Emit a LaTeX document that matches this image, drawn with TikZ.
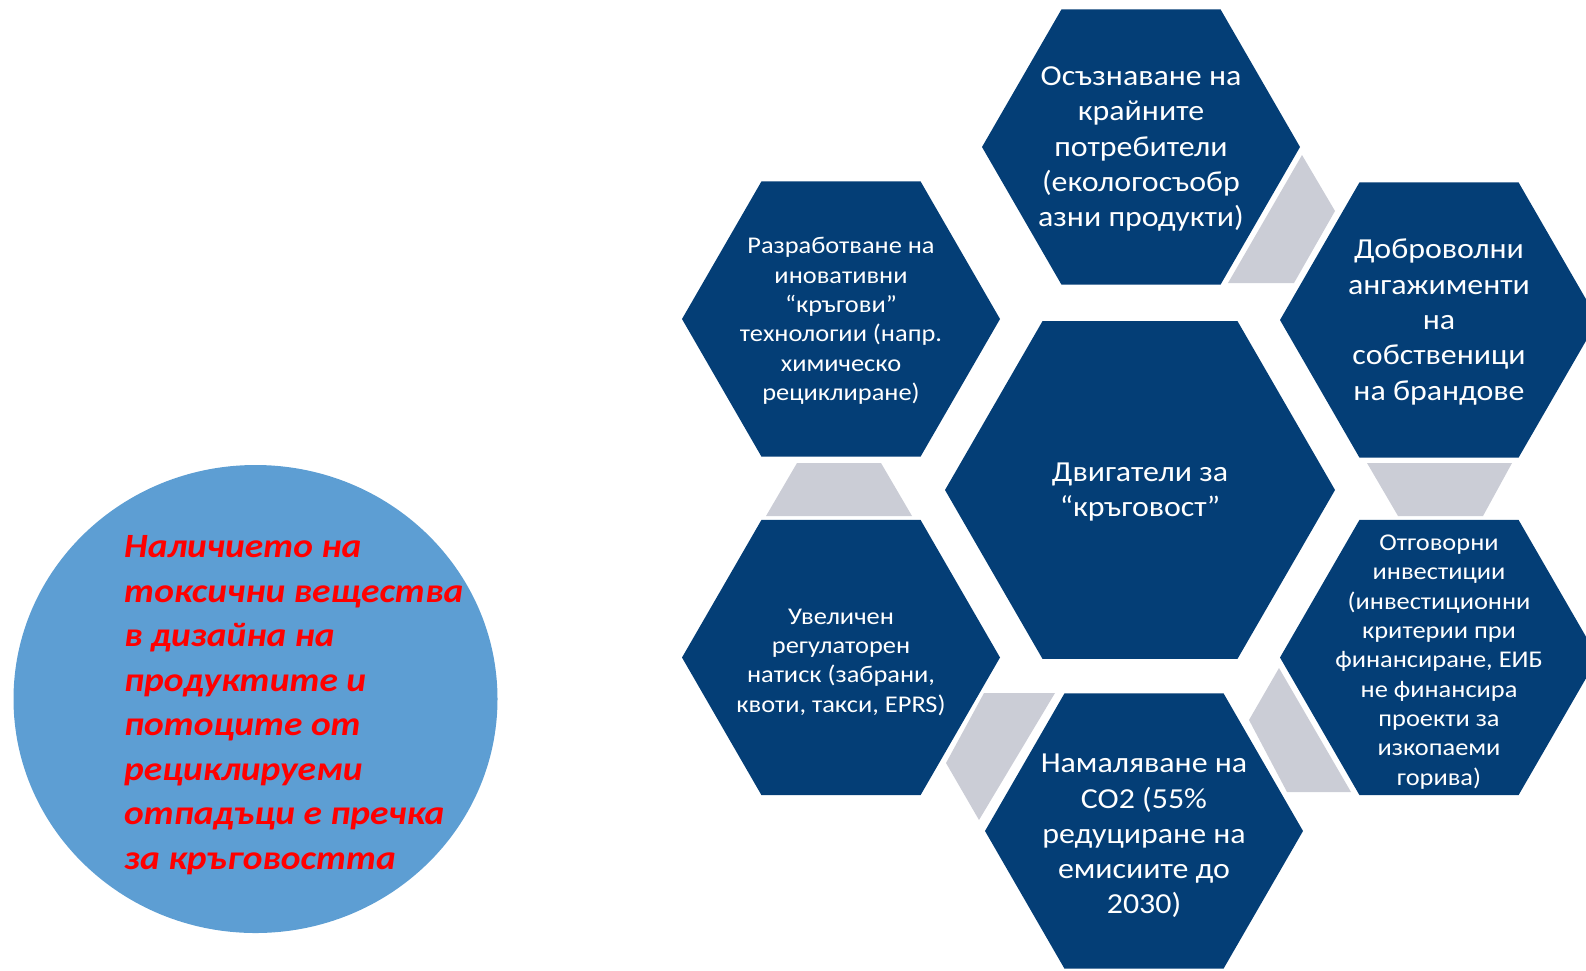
\documentclass[tikz,border=0pt]{standalone}
\usepackage{fontspec}
\setmainfont{Carlito}[FakeStretch=1.1]
\definecolor{hexblue}{RGB}{4,62,118}
\definecolor{hexgray}{RGB}{203,205,214}
\definecolor{circblue}{RGB}{93,158,211}
\definecolor{alertred}{RGB}{255,0,0}
\newcommand\hexagonfill[3]{\fill[hexfill] (#1,#2) +(0:#3) -- +(60:#3) -- +(120:#3) -- +(180:#3) -- +(240:#3) -- +(300:#3) -- cycle;}
\begin{document}
\begin{tikzpicture}[x=1pt,y=-1pt,
  hexfill/.style={fill=hexblue},
  graypiece/.style={fill=hexgray},
  bigtxt/.style={text=white, align=center, font=\fontsize{29}{35.3}\selectfont, inner sep=0pt},
  smalltxt/.style={text=white, align=center, font=\fontsize{24}{29.3}\selectfont, inner sep=0pt},
  circtxt/.style={text=alertred, align=left, font=\fontsize{34}{44.5}\selectfont\bfseries\itshape, inner sep=0pt},
]
\useasboundingbox (0,0) rectangle (1586,970);
\clip (0,0) rectangle (1586,970);

% circle
\fill[circblue] (255.5,699) ellipse [x radius=242, y radius=234];
\node[circtxt, anchor=west] (barrier) at (124,705) {Наличието на\\токсични вещества\\в дизайна на\\продуктите и\\потоците от\\рециклируеми\\отпадъци е пречка\\за кръговостта};

% gray pieces
\fill[graypiece] (1302,155) -- (1335,211) -- (1294,283) -- (1228,283) -- cycle;
\fill[graypiece] (797,463) -- (881,463) -- (912,516) -- (766,516) -- cycle;
\fill[graypiece] (1367,463) -- (1512,463) -- (1483,516) -- (1398,516) -- cycle;
\fill[graypiece] (984,693) -- (1055,693) -- (979,820) -- (946,763) -- cycle;
\fill[graypiece] (1279,668) -- (1351,792) -- (1287,792) -- (1249,720) -- cycle;

% hexagons
\hexagonfill{1141}{147}{159}
\hexagonfill{841}{319}{159}
\hexagonfill{1439}{320}{159}
\hexagonfill{1140}{490}{195}
\hexagonfill{841}{657.5}{159}
\hexagonfill{1439}{657.5}{159}
\hexagonfill{1144}{831}{159}

% texts
\node[bigtxt] (awareness) at (1141,149) {Осъзнаване на\\крайните\\потребители\\(екологосъобр\\азни продукти)};
\node[smalltxt] (innovation) at (841,321) {Разработване на\\иновативни\\“кръгови”\\технологии (напр.\\химическо\\рециклиране)};
\node[bigtxt] (voluntary) at (1439,322) {Доброволни\\ангажименти\\на\\собственици\\на брандове};
\node[bigtxt] (drivers) at (1140,492) {Двигатели за\\“кръговост”};
\node[smalltxt] (regulation) at (841,662) {Увеличен\\регулаторен\\натиск (забрани,\\квоти, такси, EPRS)};
\node[smalltxt] (investment) at (1439,662) {Отговорни\\инвестиции\\(инвестиционни\\критерии при\\финансиране, ЕИБ\\не финансира\\проекти за\\изкопаеми\\горива)};
\node[bigtxt] (co2) at (1144,836) {Намаляване на\\CO2 (55\%\\редуциране на\\емисиите до\\2030)};
\end{tikzpicture}
\end{document}
